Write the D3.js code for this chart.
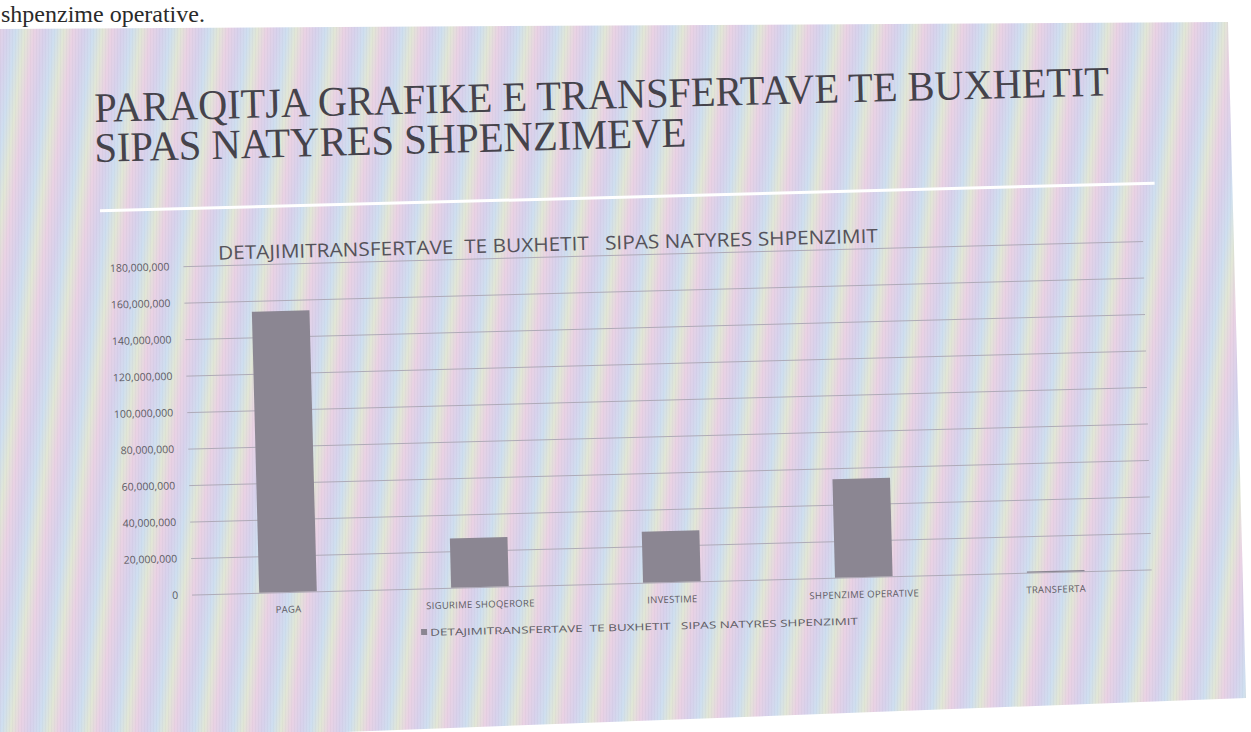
<!DOCTYPE html>
<html>
<head>
<meta charset="utf-8">
<script src="https://cdn.jsdelivr.net/npm/d3@7"></script>
<style>
  body { margin: 0; background: #fff; }
  svg { display: block; }
</style>
</head>
<body>
<div id="vis"></div>
<script>

const FRAME_WIDTH = 1251;
const FRAME_HEIGHT = 732;

// chart data
const categories = ['PAGA', 'SIGURIME SHOQERORE', 'INVESTIME', 'SHPENZIME OPERATIVE', 'TRANSFERTA'];
const values = [154000000, 27000000, 28000000, 54000000, 600000];
const yTicks = [0, 20000000, 40000000, 60000000, 80000000, 100000000, 120000000, 140000000, 160000000, 180000000];

const TITLE_1 = 'PARAQITJA GRAFIKE E TRANSFERTAVE TE BUXHETIT';
const TITLE_2 = 'SIPAS NATYRES SHPENZIMEVE';
const CHART_TITLE = 'DETAJIMITRANSFERTAVE  TE BUXHETIT   SIPAS NATYRES SHPENZIMIT';

// plot area (before the photo tilt)
const PLOT = {left: 192, right: 1152, top: 263.5, bottom: 592};

const FRAME = d3.select('#vis')
  .append('svg')
    .attr('width', FRAME_WIDTH)
    .attr('height', FRAME_HEIGHT);

// moire-like pastel background of the photographed page
const defs = FRAME.append('defs');
const grad = defs.append('linearGradient')
    .attr('id', 'moire')
    .attr('gradientUnits', 'userSpaceOnUse')
    .attr('x1', 0).attr('y1', 0)
    .attr('x2', 38).attr('y2', 5)
    .attr('spreadMethod', 'repeat');
[['0', '#ead2e4'], ['0.27', '#d8d2ec'], ['0.52', '#cfdff0'], ['0.76', '#e2e7d6'], ['1', '#ead2e4']]
  .forEach(s => grad.append('stop').attr('offset', s[0]).attr('stop-color', s[1]));

const lines = defs.append('pattern')
    .attr('id', 'fine')
    .attr('patternUnits', 'userSpaceOnUse')
    .attr('width', 3).attr('height', 10);
lines.append('rect').attr('width', 1).attr('height', 10).attr('fill', 'rgba(120,110,140,0.05)');

FRAME.append('polygon')
    .attr('points', '0,29 1228,22 1246,698 0,745')
    .attr('fill', 'url(#moire)');
FRAME.append('polygon')
    .attr('points', '0,29 1228,22 1246,698 0,745')
    .attr('fill', 'url(#fine)');

// text of the page above the chart
FRAME.append('text')
    .attr('x', 1)
    .attr('y', 22)
    .attr('font-family', 'Liberation Serif, serif')
    .attr('font-size', 24)
    .attr('fill', '#2a2a2a')
    .text('shpenzime operative.');

// everything in the chart is tilted a little in the photo
const CHART = FRAME.append('g')
    .attr('transform', 'rotate(-1.5, 290, 592)');

CHART.append('text')
    .attr('x', 107).attr('y', 117)
    .attr('font-family', 'Liberation Serif, serif')
    .attr('font-size', 42)
    .attr('fill', '#45434b')
    .attr('textLength', 1015)
    .attr('lengthAdjust', 'spacingAndGlyphs')
    .text(TITLE_1);

CHART.append('text')
    .attr('x', 106).attr('y', 157)
    .attr('font-family', 'Liberation Serif, serif')
    .attr('font-size', 42)
    .attr('fill', '#45434b')
    .attr('textLength', 592)
    .attr('lengthAdjust', 'spacingAndGlyphs')
    .text(TITLE_2);

CHART.append('line')
    .attr('x1', 110).attr('x2', 1165)
    .attr('y1', 206).attr('y2', 206)
    .attr('stroke', '#ffffff')
    .attr('stroke-width', 3);

CHART.append('text')
    .attr('x', 227).attr('y', 258)
    .attr('font-family', 'Open Sans, sans-serif')
    .attr('font-size', 19)
    .attr('fill', '#55535a')
    .attr('textLength', 660)
    .attr('lengthAdjust', 'spacingAndGlyphs')
    .style('white-space', 'pre')
    .text(CHART_TITLE);

// scales
const X_SCALE = d3.scaleBand()
    .domain(categories)
    .range([PLOT.left, PLOT.right])
    .paddingInner(0.7)
    .paddingOuter(0.35);

const Y_SCALE = d3.scaleLinear()
    .domain([0, d3.max(yTicks)])
    .range([PLOT.bottom, PLOT.top]);

// gridlines
CHART.append('g')
    .attr('transform', 'translate(' + PLOT.left + ',0)')
    .call(d3.axisLeft(Y_SCALE).tickValues(yTicks).tickSize(-(PLOT.right - PLOT.left)).tickFormat(''))
    .call(g => g.select('.domain').remove())
    .call(g => g.selectAll('line').attr('stroke', '#aaa6b3').attr('stroke-width', 0.9));

// y axis labels
CHART.append('g')
    .attr('transform', 'translate(' + PLOT.left + ',0)')
    .call(d3.axisLeft(Y_SCALE).tickValues(yTicks).tickSize(0).tickPadding(14).tickFormat(d3.format(',')))
    .call(g => g.select('.domain').remove())
    .call(g => g.selectAll('text')
        .attr('font-family', 'Open Sans, sans-serif')
        .attr('font-size', 10.5)
        .attr('fill', '#5e5c64'));

// bars
CHART.selectAll('.bar')
  .data(values)
  .enter()
  .append('rect')
    .attr('class', 'bar')
    .attr('x', (d, i) => X_SCALE(categories[i]))
    .attr('y', d => Y_SCALE(d))
    .attr('width', X_SCALE.bandwidth())
    .attr('height', d => PLOT.bottom - Y_SCALE(d))
    .attr('fill', '#8b8692');

// category labels
CHART.append('g')
    .attr('transform', 'translate(0,' + PLOT.bottom + ')')
    .call(d3.axisBottom(X_SCALE).tickSize(0).tickPadding(14))
    .call(g => g.select('.domain').remove())
    .call(g => g.selectAll('text')
        .attr('font-family', 'Open Sans, sans-serif')
        .attr('font-size', 9.5)
        .attr('letter-spacing', 0.3)
        .attr('fill', '#5e5c64'));

// legend
const LEGEND = CHART.append('g')
    .attr('transform', 'translate(420,636)');
LEGEND.append('rect')
    .attr('x', 0).attr('y', -3.5)
    .attr('width', 6).attr('height', 6)
    .attr('fill', '#8b8692');
LEGEND.append('text')
    .attr('x', 9).attr('y', 3.5)
    .attr('font-family', 'Open Sans, sans-serif')
    .attr('font-size', 9.5)
    .attr('fill', '#5e5c64')
    .attr('textLength', 428)
    .attr('lengthAdjust', 'spacingAndGlyphs')
    .style('white-space', 'pre')
    .text(CHART_TITLE);

</script>
</body>
</html>
